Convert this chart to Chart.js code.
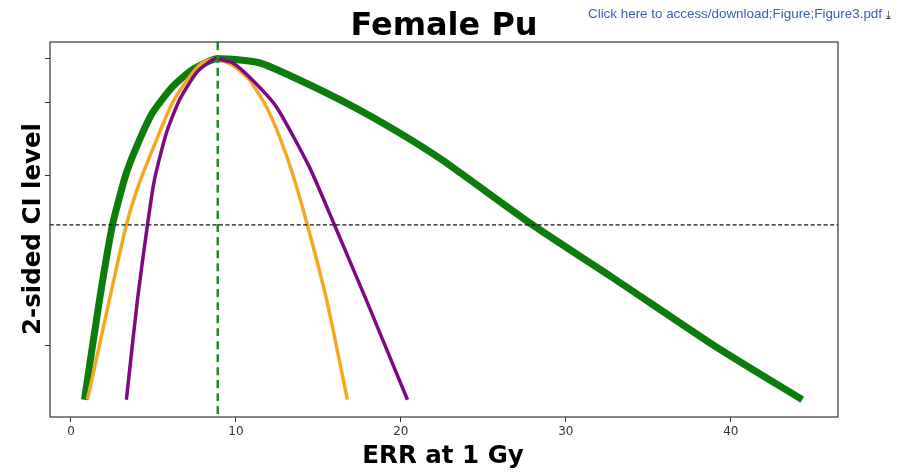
<!DOCTYPE html>
<html>
<head>
<meta charset="utf-8">
<script src="https://cdn.jsdelivr.net/npm/chart.js@4.4.1/dist/chart.umd.min.js"></script>
<style>
  body { margin: 0; background: #fff; }
  #wrap { position: relative; width: 910px; height: 476px; }
  #link { position: absolute; left: 588px; top: 6px; font: 13.4px "Liberation Sans", Arial, sans-serif; color: #3862ae; white-space: nowrap; }
  #link span { color: #333; font-family: "DejaVu Sans"; font-size: 11px; margin-left: 4px; }
</style>
</head>
<body>
<div id="wrap">
  <canvas id="chart" width="910" height="476"></canvas>
  <div id="link">Click here to access/download;Figure;Figure3.pdf<span>⤓</span></div>
</div>
<script>
// values (y = deviance from the peak, axis drawn reversed)
const greenX = [0.82, 1.73, 2.52, 3.36, 4.15, 4.94, 6.15, 7.36, 8.82, 11.42, 13.85, 16.88, 19.9, 22.5, 27.97, 33.06, 39.12, 44.33];
const greenY = [7.89, 5.58, 3.84, 2.64, 1.88, 1.25, 0.65, 0.25, 0, 0.09, 0.49, 1.06, 1.71, 2.34, 3.84, 5.12, 6.67, 7.89];
const orangeX = [1.0, 2.33, 3.36, 4.15, 5.18, 6.15, 7.18, 7.97, 8.76, 9.79, 10.82, 11.85, 12.64, 13.42, 14.33, 15.5, 16.76];
const orangeY = [7.89, 5.58, 3.84, 2.87, 1.88, 1.02, 0.42, 0.09, 0, 0.14, 0.49, 1.11, 1.8, 2.64, 3.84, 5.58, 7.89];
const purpleX = [3.36, 4.03, 4.64, 5.06, 5.79, 6.58, 7.61, 8.39, 8.76, 9.79, 11.0, 12.45, 14.45, 15.97, 17.9, 20.4];
const purpleY = [7.89, 5.58, 3.84, 2.8, 1.71, 0.95, 0.32, 0.07, 0, 0.09, 0.49, 1.11, 2.5, 3.84, 5.58, 7.89];
const peakX = 8.9;
const ciLevel = 3.841;
const xTicks = [0, 10, 20, 30, 40];
const yTicks = [0, 1, 2.706, 6.635];
const xRange = [-1.27, 46.5];
const yRange = [-0.39, 8.29];

const toPoints = (xs, ys) => xs.map((x, i) => ({ x: x, y: ys[i] }));

//box round the plot and the axis titles
const framePlugin = {
    id: 'frame',
    afterDraw(chart) {
        const ctx = chart.ctx;
        const a = chart.chartArea;
        ctx.save();
        ctx.strokeStyle = '#333';
        ctx.lineWidth = 1.2;
        ctx.strokeRect(a.left, a.top, a.right - a.left, a.bottom - a.top);
        ctx.fillStyle = '#000';
        ctx.textAlign = 'center';
        ctx.textBaseline = 'alphabetic';
        ctx.font = 'bold 32px "DejaVu Sans"';
        ctx.fillText('Female Pu', 444, 35);
        ctx.font = 'bold 24.5px "DejaVu Sans"';
        ctx.fillText('ERR at 1 Gy', 443, 463);
        ctx.translate(40, 229);
        ctx.rotate(-Math.PI / 2);
        ctx.fillText('2-sided CI level', 0, 0);
        ctx.restore();
    }
};

new Chart(document.getElementById('chart'), {
    type: 'line',
    data: {
        datasets: [
            {
                data: toPoints(greenX, greenY),
                borderColor: '#0a7d0a',
                borderWidth: 7,
                order: 3
            },
            {
                data: toPoints(orangeX, orangeY),
                borderColor: '#f2a922',
                borderWidth: 3.5,
                order: 2
            },
            {
                data: toPoints(purpleX, purpleY),
                borderColor: '#7d0a80',
                borderWidth: 3.5,
                order: 1
            },
            {
                data: [{ x: peakX, y: yRange[0] }, { x: peakX, y: yRange[1] }],
                borderColor: '#1f8a2a',
                borderWidth: 2.5,
                borderDash: [8, 5],
                order: 0
            },
            {
                data: [{ x: xRange[0], y: ciLevel }, { x: xRange[1], y: ciLevel }],
                borderColor: '#111',
                borderWidth: 1.2,
                borderDash: [4, 2.5],
                order: 0
            }
        ]
    },
    options: {
        responsive: false,
        animation: false,
        layout: { padding: { left: 0, right: 72, top: 42, bottom: 0 } },
        elements: {
            point: { radius: 0 },
            line: { tension: 0.2, borderCapStyle: 'butt', borderJoinStyle: 'round', fill: false }
        },
        plugins: { legend: { display: false }, tooltip: { enabled: false } },
        scales: {
            x: {
                type: 'linear',
                min: xRange[0],
                max: xRange[1],
                afterBuildTicks: s => { s.ticks = xTicks.map(v => ({ value: v })); },
                afterFit: s => { s.height = 59; },
                border: { display: false },
                grid: { drawOnChartArea: false, tickLength: 5, color: '#333' },
                ticks: { font: { family: 'DejaVu Sans', size: 12 }, color: '#333', padding: 3, maxRotation: 0 }
            },
            y: {
                type: 'linear',
                reverse: true,
                min: yRange[0],
                max: yRange[1],
                afterBuildTicks: s => { s.ticks = yTicks.map(v => ({ value: v })); },
                afterFit: s => { s.width = 50; },
                border: { display: false },
                grid: { drawOnChartArea: false, tickLength: 5, color: '#333' },
                ticks: { callback: () => '', padding: 0 }
            }
        }
    },
    plugins: [framePlugin]
});
</script>
</body>
</html>
